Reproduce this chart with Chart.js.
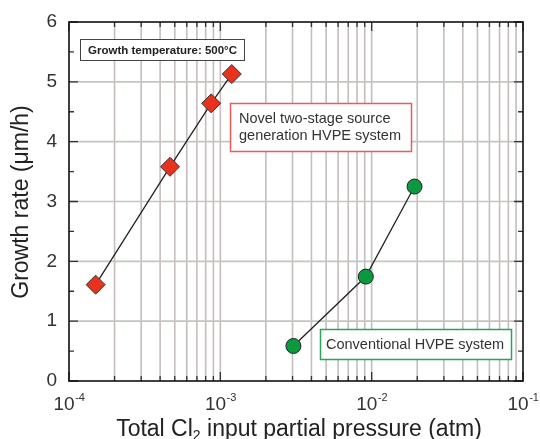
<!DOCTYPE html>
<html>
<head>
<meta charset="utf-8">
<script src="https://cdn.jsdelivr.net/npm/chart.js@4.4.0/dist/chart.umd.min.js"></script>
<style>
  html, body { margin: 0; background: #fff; }
</style>
</head>
<body>
<canvas id="chart" width="540" height="439"></canvas>
<script>
// data
const novelX = [1.5e-4, 4.65e-4, 8.7e-4, 1.19e-3];
const novelY = [1.61, 3.58, 4.64, 5.13];
const convX = [3.04e-3, 9.15e-3, 1.92e-2];
const convY = [0.585, 1.745, 3.25];

const xDecades = [-4, -3, -2, -1];
const yTicks = [0, 1, 2, 3, 4, 5, 6];

const FONT = '"Liberation Sans", Arial, Helvetica, sans-serif';

function pts(xs, ys) {
  return xs.map((x, i) => ({ x: x, y: ys[i] }));
}

function box(ctx, x, y, w, h, color, lw) {
  ctx.fillStyle = '#fff';
  ctx.fillRect(x, y, w, h);
  ctx.strokeStyle = color;
  ctx.lineWidth = lw;
  ctx.strokeRect(x, y, w, h);
}

const axesPlugin = {
  id: 'axesPlugin',
  beforeDatasetsDraw(chart) {
    const ctx = chart.ctx;
    const xs = chart.scales.x, ys = chart.scales.y;
    const a = chart.chartArea;
    ctx.save();
    // vertical grid at 1..9 x 10^n
    ctx.strokeStyle = '#c6bdbd';
    ctx.lineWidth = 1.6;
    xDecades.slice(0, -1).forEach(d => {
      for (let m = 1; m <= 9; m++) {
        const px = xs.getPixelForValue(m * Math.pow(10, d));
        if (m === 1 && d === xDecades[0]) continue;
        ctx.beginPath();
        ctx.moveTo(px, a.top);
        ctx.lineTo(px, a.bottom);
        ctx.stroke();
      }
    });
    // horizontal grid
    ctx.strokeStyle = '#c6c6be';
    yTicks.slice(1, -1).forEach(v => {
      const py = ys.getPixelForValue(v);
      ctx.beginPath();
      ctx.moveTo(a.left, py);
      ctx.lineTo(a.right, py);
      ctx.stroke();
    });

    // annotation boxes
    box(ctx, 80.5, 39.5, 164, 21, '#444', 1);
    ctx.fillStyle = '#222';
    ctx.font = 'bold 11.5px ' + FONT;
    ctx.textAlign = 'center';
    ctx.textBaseline = 'middle';
    ctx.fillText('Growth temperature: 500°C', 162.5, 50.5);

    box(ctx, 230.5, 103.5, 181, 48, '#f05a5a', 1.5);
    ctx.fillStyle = '#333';
    ctx.font = '14.5px ' + FONT;
    ctx.textAlign = 'left';
    ctx.fillText('Novel two-stage source', 239, 119);
    ctx.fillText('generation HVPE system', 239, 136);

    box(ctx, 320.5, 329.5, 191, 30, '#28a55a', 1.5);
    ctx.fillStyle = '#333';
    ctx.fillText('Conventional HVPE system', 326, 345);
    ctx.restore();
  },
  afterDraw(chart) {
    const ctx = chart.ctx;
    const xs = chart.scales.x, ys = chart.scales.y;
    const a = chart.chartArea;
    ctx.save();
    ctx.strokeStyle = '#333';
    ctx.lineWidth = 1.3;
    // x ticks (inward, top and bottom)
    xDecades.forEach((d, i) => {
      for (let m = 1; m <= 9; m++) {
        if (i === xDecades.length - 1 && m > 1) break;
        const px = xs.getPixelForValue(m * Math.pow(10, d));
        const len = m === 1 ? 9 : 5;
        ctx.beginPath();
        ctx.moveTo(px, a.bottom); ctx.lineTo(px, a.bottom - len);
        ctx.moveTo(px, a.top); ctx.lineTo(px, a.top + len);
        ctx.stroke();
      }
    });
    // y ticks (inward, left and right), minor at halves
    for (let v = 0; v <= 6; v += 0.5) {
      const py = ys.getPixelForValue(v);
      const len = Number.isInteger(v) ? 9 : 5;
      ctx.beginPath();
      ctx.moveTo(a.left, py); ctx.lineTo(a.left + len, py);
      ctx.moveTo(a.right, py); ctx.lineTo(a.right - len, py);
      ctx.stroke();
    }
    // frame
    ctx.strokeStyle = '#111';
    ctx.lineWidth = 1.6;
    ctx.strokeRect(a.left, a.top, a.right - a.left, a.bottom - a.top);

    ctx.fillStyle = '#333';
    // y tick labels
    ctx.font = '19px ' + FONT;
    ctx.textAlign = 'right';
    ctx.textBaseline = 'middle';
    yTicks.forEach(v => ctx.fillText(String(v), a.left - 12, ys.getPixelForValue(v)));

    // x tick labels 10^n
    xDecades.forEach(d => {
      const px = xs.getPixelForValue(Math.pow(10, d));
      ctx.font = '19px ' + FONT;
      const w1 = ctx.measureText('10').width;
      ctx.font = '11px ' + FONT;
      const sup = String(d);
      const w2 = ctx.measureText(sup).width;
      const x0 = px - (w1 + w2) / 2;
      ctx.textAlign = 'left';
      ctx.textBaseline = 'alphabetic';
      ctx.font = '19px ' + FONT;
      ctx.fillText('10', x0, 410);
      ctx.font = '11px ' + FONT;
      ctx.fillText(sup, x0 + w1 + 0.5, 401);
    });

    // x title with subscript
    ctx.fillStyle = '#222';
    const t1 = 'Total Cl', t2 = '2', t3 = ' input partial pressure (atm)';
    ctx.font = '23px ' + FONT;
    const wa = ctx.measureText(t1).width, wc = ctx.measureText(t3).width;
    ctx.font = '14px ' + FONT;
    const wb = ctx.measureText(t2).width;
    let tx = 299 - (wa + wb + wc) / 2;
    ctx.textAlign = 'left';
    ctx.textBaseline = 'alphabetic';
    ctx.font = '23px ' + FONT;
    ctx.fillText(t1, tx, 436);
    ctx.font = '14px ' + FONT;
    ctx.fillText(t2, tx + wa, 440);
    ctx.font = '23px ' + FONT;
    ctx.fillText(t3, tx + wa + wb, 436);

    // y title
    ctx.translate(22, 202);
    ctx.rotate(-Math.PI / 2);
    ctx.textAlign = 'center';
    ctx.textBaseline = 'middle';
    ctx.font = '23px ' + FONT;
    ctx.fillText('Growth rate (μm/h)', 0, 0);
    ctx.restore();
  }
};

new Chart(document.getElementById('chart'), {
  type: 'scatter',
  data: {
    datasets: [
      {
        label: 'Novel two-stage source generation HVPE system',
        data: pts(novelX, novelY),
        showLine: true,
        borderColor: '#222',
        borderWidth: 1.3,
        pointStyle: 'rectRot',
        pointRadius: 9.5,
        pointBackgroundColor: '#e8321e',
        pointBorderColor: '#333',
        pointBorderWidth: 1
      },
      {
        label: 'Conventional HVPE system',
        data: pts(convX, convY),
        showLine: true,
        borderColor: '#222',
        borderWidth: 1.3,
        pointStyle: 'circle',
        pointRadius: 7.5,
        pointBackgroundColor: '#0a9a3e',
        pointBorderColor: '#222',
        pointBorderWidth: 1
      }
    ]
  },
  options: {
    responsive: false,
    animation: false,
    layout: { padding: { left: 69, top: 22, right: 17, bottom: 58 } },
    plugins: { legend: { display: false }, tooltip: { enabled: false } },
    scales: {
      x: { type: 'logarithmic', min: 1e-4, max: 1e-1, display: false },
      y: { type: 'linear', min: 0, max: 6, display: false }
    }
  },
  plugins: [axesPlugin]
});
</script>
</body>
</html>
